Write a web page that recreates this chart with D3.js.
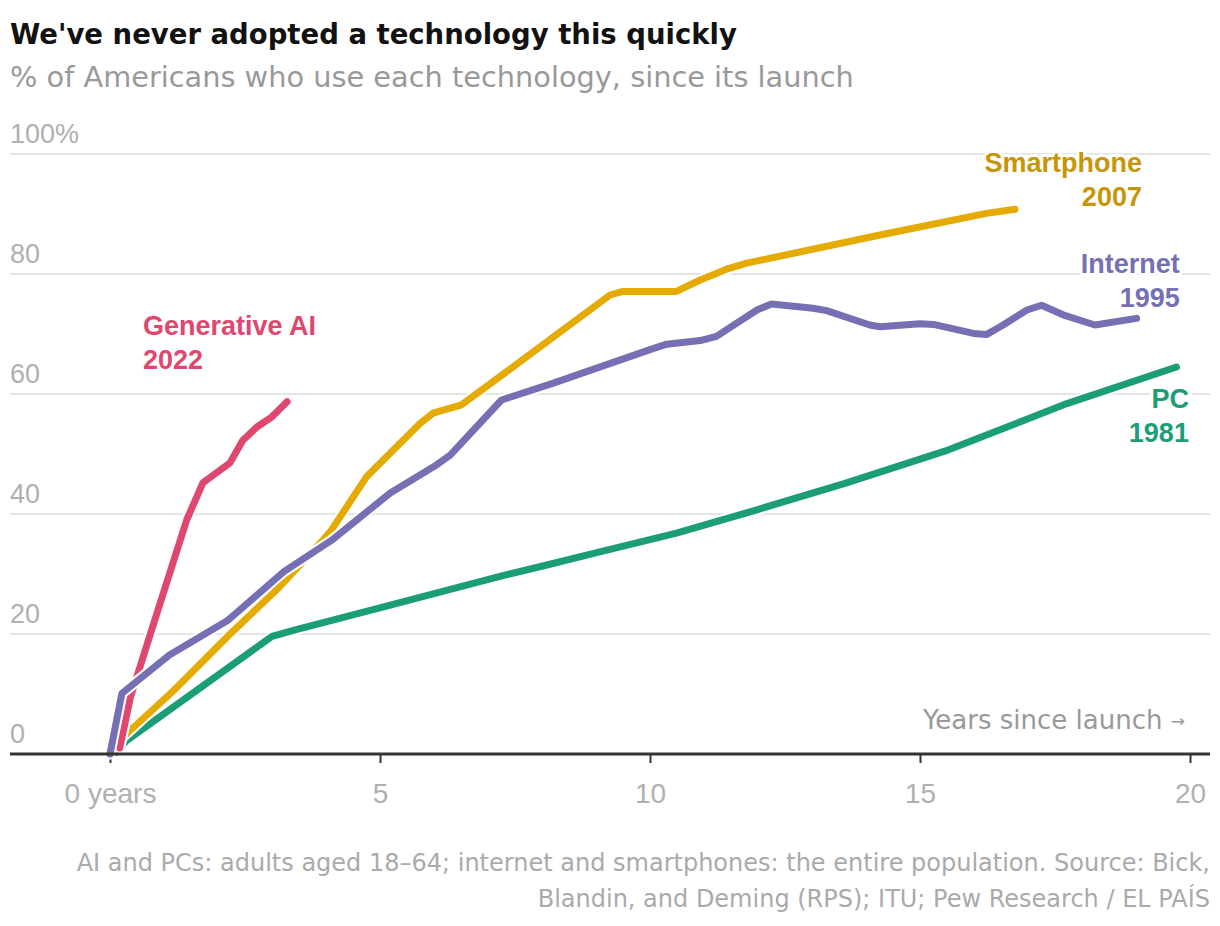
<!DOCTYPE html>
<html>
<head>
<meta charset="utf-8">
<script src="https://cdn.jsdelivr.net/npm/d3@7"></script>
<style>
  body { margin: 0; background: #fff; }
  svg { display: block; }
  text { font-family: "Liberation Sans", Arial, sans-serif; }
  .wide { font-family: "DejaVu Sans", "Liberation Sans", sans-serif; }
</style>
</head>
<body>
<div id="chart"></div>
<script>
// Data: [years since launch, % of Americans]
var aiData = [[0.18, 1], [0.38, 9.5], [0.8, 21.5], [1.42, 39], [1.72, 45.2],
    [2.22, 48.5], [2.46, 52.3], [2.72, 54.5], [3.0, 56.2], [3.28, 58.7]];

var smartphoneData = [[0.2, 2.5], [1.17, 10.5], [2.2, 19.8], [3.1, 27.5], [3.95, 35.7],
    [4.1, 37.3], [4.75, 46.2], [5.74, 55.1], [5.98, 56.8], [6.51, 58.2], [7.22, 62.9],
    [9.26, 76.5], [9.5, 77.1], [10.49, 77.1], [10.93, 79], [11.45, 80.9], [11.79, 81.8],
    [14.26, 86.5], [16.23, 90.1], [16.76, 90.8]];

var internetData = [[0, 0], [0.22, 10.1], [1.1, 16.5], [2.17, 22.2], [3.22, 30.4],
    [4.1, 35.6], [5.19, 43.5], [6.0, 47.9], [6.3, 49.8], [7.25, 59], [8.21, 61.8],
    [10.0, 67.4], [10.31, 68.3], [10.93, 68.9], [11.23, 69.6], [11.98, 74], [12.25, 75],
    [13.02, 74.3], [13.27, 73.9], [14.07, 71.5], [14.26, 71.2], [15, 71.7], [15.25, 71.6],
    [15.99, 70.1], [16.23, 69.9], [16.54, 71.5], [16.98, 74], [17.25, 74.8], [17.65, 73.2],
    [18.24, 71.5], [19.01, 72.6]];

var pcData = [[0.12, 0.3], [0.3, 2.2], [3.0, 19.6], [3.43, 20.7], [5.19, 24.8],
    [7.22, 29.6], [8.09, 31.5], [9.07, 33.7], [10.49, 36.8], [11.98, 40.7],
    [13.61, 45.1], [15.53, 50.7], [17.72, 58.4], [19.75, 64.5]];

var xTicks = [0, 5, 10, 15, 20];
var yTicks = [0, 20, 40, 60, 80, 100];

var title = "We've never adopted a technology this quickly";
var subtitle = "% of Americans who use each technology, since its launch";
var footer = ["AI and PCs: adults aged 18\u201364; internet and smartphones: the entire population. Source: Bick,",
    "Blandin, and Deming (RPS); ITU; Pew Research / EL PA\u00cdS"];

// drawing order: last one ends on top
var series = [
    { name: "PC", year: "1981", data: pcData, color: "#1b9e77", labelColor: "#1b9e77" },
    { name: "Smartphone", year: "2007", data: smartphoneData, color: "#e6ab02", labelColor: "#c99506" },
    { name: "Generative AI", year: "2022", data: aiData, color: "#e0476e", labelColor: "#e0476e" },
    { name: "Internet", year: "1995", data: internetData, color: "#7570b3", labelColor: "#7570b3" }
];

// label anchor points in data units (x years, y %)
var labelPos = {
    "Generative AI": { x: 0.61, y: 69.8, anchor: "start" },
    "Smartphone": { x: 19.11, y: 97.0, anchor: "end" },
    "Internet": { x: 19.81, y: 80.1, anchor: "end" },
    "PC": { x: 19.98, y: 57.6, anchor: "end" }
};

function drawChart() {
    const width = 1220;
    const height = 926;
    const left = 10, right = 1210;

    const svg = d3.select("#chart")
        .append("svg")
        .attr("width", width)
        .attr("height", height);

    const x = d3.scaleLinear().domain([0, 20]).range([110, 1190]);
    const y = d3.scaleLinear().domain([0, 100]).range([754, 154]);

    // title + subtitle
    svg.append("text")
        .attr("class", "wide")
        .attr("x", left).attr("y", 44)
        .attr("font-size", 27.5).attr("font-weight", 700)
        .attr("fill", "#121212")
        .text(title);
    svg.append("text")
        .attr("class", "wide")
        .attr("x", left).attr("y", 87)
        .attr("font-size", 28.8)
        .attr("fill", "#999999")
        .text(subtitle);

    // gridlines
    svg.append("g")
        .selectAll("line")
        .data(yTicks.filter((d) => d > 0))
        .enter()
        .append("line")
        .attr("x1", left).attr("x2", right)
        .attr("y1", (d) => y(d)).attr("y2", (d) => y(d))
        .attr("stroke", "#e5e5e5")
        .attr("stroke-width", 2);

    // y labels sit above the gridlines
    svg.append("g")
        .selectAll("text")
        .data(yTicks)
        .enter()
        .append("text")
        .attr("x", left)
        .attr("y", (d) => y(d) - 11)
        .attr("font-size", 27)
        .attr("fill", "#b0b0b0")
        .text((d) => d === 100 ? "100%" : d);

    // x axis
    const xAxis = svg.append("g")
        .attr("transform", `translate(0,${y(0)})`)
        .call(d3.axisBottom(x)
            .tickValues(xTicks)
            .tickSize(9)
            .tickPadding(20)
            .tickFormat((d) => d === 0 ? "0 years" : d));
    xAxis.select(".domain").remove();
    xAxis.selectAll(".tick line").attr("stroke", "#333").attr("stroke-width", 2);
    xAxis.selectAll(".tick text")
        .attr("font-family", "'Liberation Sans', Arial, sans-serif")
        .attr("font-size", 28)
        .attr("fill", "#b0b0b0");

    const yl = svg.append("text")
        .attr("class", "wide")
        .attr("x", 1185).attr("y", 729)
        .attr("text-anchor", "end")
        .attr("font-size", 26)
        .attr("fill", "#999");
    yl.append("tspan").text("Years since launch ");
    yl.append("tspan").attr("font-size", 17).attr("dy", -2).text("\u2192");

    // lines with a white halo
    const line = d3.line()
        .x((d) => x(d[0]))
        .y((d) => y(d[1]));

    const lines = svg.append("g");
    series.forEach(function(s) {
        lines.append("path")
            .attr("d", line(s.data))
            .attr("fill", "none")
            .attr("stroke", "#fff")
            .attr("stroke-width", 11)
            .attr("stroke-linejoin", "round")
            .attr("stroke-linecap", "round");
        lines.append("path")
            .attr("class", "data")
            .attr("d", line(s.data))
            .attr("fill", "none")
            .attr("stroke", s.color)
            .attr("stroke-width", 7)
            .attr("stroke-linejoin", "round")
            .attr("stroke-linecap", "round");
    });

    // baseline over the lines
    svg.append("line")
        .attr("x1", left).attr("x2", right)
        .attr("y1", y(0)).attr("y2", y(0))
        .attr("stroke", "#333")
        .attr("stroke-width", 3);

    // series labels
    series.forEach(function(s) {
        const p = labelPos[s.name];
        const t = svg.append("text")
            .attr("x", x(p.x))
            .attr("y", y(p.y))
            .attr("text-anchor", p.anchor)
            .attr("font-size", 27).attr("font-weight", 700)
            .attr("fill", s.labelColor)
            .attr("stroke", "#fff").attr("stroke-width", 6)
            .attr("stroke-linejoin", "round")
            .attr("paint-order", "stroke");
        t.append("tspan").attr("x", x(p.x)).text(s.name);
        t.append("tspan").attr("x", x(p.x)).attr("dy", 34).text(s.year);
    });

    // footer
    svg.append("g")
        .selectAll("text")
        .data(footer)
        .enter()
        .append("text")
        .attr("class", "wide")
        .attr("x", right)
        .attr("y", (d, i) => 871 + i * 36)
        .attr("text-anchor", "end")
        .attr("font-size", 24)
        .attr("fill", "#aaaaaa")
        .text((d) => d);
}

drawChart();
</script>
</body>
</html>
